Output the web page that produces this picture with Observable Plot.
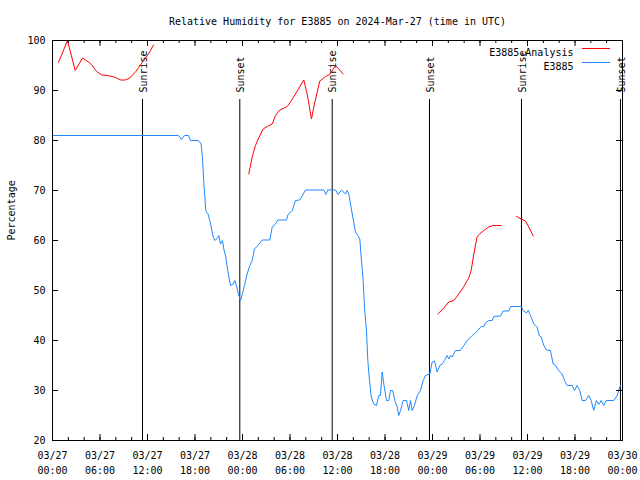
<!DOCTYPE html>
<html><head><meta charset="utf-8">
<script src="https://cdn.jsdelivr.net/npm/d3@7"></script>
<script src="https://cdn.jsdelivr.net/npm/@observablehq/plot@0.6"></script>
<style>body{margin:0;background:#fff} svg{display:block}</style>
</head><body><div id="chart"></div>
<script>
const title = "Relative Humidity for E3885 on 2024-Mar-27 (time in UTC)";
const startUTC = Date.UTC(2024, 2, 27);
const yLabel = "Percentage";
const seriesObs = "E3885";
const seriesAna = "E3885\u1D64Analysis";

// observed humidity (hours after 03/27 00:00 UTC, %)
const obsHours = [0,15.92,16.29,16.67,17.18,17.43,18.44,18.78,18.95,19.11,19.36,19.62,19.87,20.05,20.30,20.50,20.80,21.01,21.22,21.47,21.64,21.89,22.14,22.48,22.82,23.03,23.24,23.46,23.75,24.00,24.25,24.59,24.92,25.22,25.51,25.93,26.49,27.45,27.75,28.17,28.46,29.56,29.72,30.28,30.69,31.24,31.96,34.27,34.52,34.77,35.75,36.09,36.50,37.01,37.22,37.43,37.64,37.93,38.27,38.56,38.82,38.99,39.24,39.41,39.66,39.83,40.00,40.26,40.58,40.92,41.22,41.43,41.64,41.85,42.19,42.48,42.69,42.98,43.24,43.54,43.74,43.96,44.30,44.71,45.00,45.22,45.43,45.72,46.07,46.48,46.82,47.11,47.66,47.96,48.25,48.59,48.92,49.22,49.51,49.85,50.06,50.27,50.49,50.90,51.53,51.95,52.38,53.01,53.43,53.72,54.15,54.48,54.69,55.11,55.54,55.74,56.59,56.93,57.64,57.85,59.24,59.45,59.87,60.09,60.38,60.79,61.22,61.47,61.73,62.06,62.40,62.90,63.24,63.53,63.95,64.38,64.67,65.01,65.64,65.93,66.27,66.60,66.91,67.32,67.74,68.04,68.37,68.71,69.00,69.30,69.63,69.94,70.90,71.33,71.53,71.74];
const obsValues = [81,81,80.2,81,81,80,80,79.3,76.4,71.7,66,65.4,64,62.7,60.7,60,60.4,61,59.3,60,58.3,56.7,54,51,51.3,52,51,49.4,48,49.4,51,53.3,55,56,58.3,59,60.1,60.1,62.7,63.3,64.1,64.1,65.1,66,68,68.1,70.1,70.1,69.2,70.1,70.1,69.2,70.1,69.3,70,69.3,67.3,64.7,61.7,61,60.3,56.7,52,46.7,42,36,32.7,28.7,27.3,27,29,29,33.7,31.3,28,28,30,30,28,26.7,25,26,28,28,26,28,26,27,29,30,32,33,33.3,35.7,35.9,33.7,35,35.3,36,37,36.3,37,36.7,38,38,39,40,41,41.5,42,42.8,42.8,43.5,44,44,44.8,44.9,45.9,45.9,46.8,46.8,46,45.5,46,45,43.3,42.7,41,40.7,39,38.1,38,35.3,35,34,33.3,32,31,31,30,31,30,28,28,29,28,26,28,27.2,28,27,28,28,29,30,31];

// analysis humidity, in separate segments
const anaSegment = [1,1,1,1,1,1,1,1,1,1,1,1,1,1,1,1,1, 2,2,2,2,2,2,2,2,2,2,2,2,2,2,2,2,2,2,2,2,2,2, 3,3,3,3,3,3,3,3,3,3,3,3,3,3,3, 4,4,4,4,4];
const anaHours = [0.76,1.89,2.87,3.79,4.64,4.96,5.56,6.23,6.95,7.79,8.63,9.18,9.76,10.52,11.28,12.21,12.76,
  24.79,25.22,25.64,25.93,26.61,27.12,27.75,28.17,28.71,29.64,30.06,30.69,31.74,32.17,32.71,33.09,33.76,34.48,35.03,35.75,36.16,36.72,
  48.67,49.43,50.06,50.69,51.32,51.95,52.58,52.89,53.22,53.64,53.97,54.48,55.11,55.67,56.67,
  58.61,59.20,59.74,60.16,60.72];
const anaValues = [95.6,100,94,96.5,95.6,95.1,93.8,93.1,93,92.7,92.1,92.1,92.5,93.8,95.5,97.5,99.1,
  73.3,76.7,79,80.1,82.3,82.8,83.3,85,86.1,86.8,87.7,89.3,92.1,89.3,84.3,87.3,91.9,92.8,93.2,95,94.3,93.3,
  45.3,46.5,47.7,48,49.3,50.8,52.5,54,57.3,60.8,61.3,62,62.7,63,63,
  64.8,64.3,63.9,62.7,60.9];

// sunrise / sunset markers
const eventHours = [11.37, 23.66, 35.33, 47.62, 59.24, 71.74];
const eventLabels = ["Sunrise", "Sunset", "Sunrise", "Sunset", "Sunrise", "Sunset"];

const yTicks = [20, 30, 40, 50, 60, 70, 80, 90, 100];
const xMajorHours = [0, 6, 12, 18, 24, 30, 36, 42, 48, 54, 60, 66, 72];
const xMinorHours = d3.range(0, 73, 2);

const hr = h => new Date(startUTC + h * 3600e3);
const obs = obsHours.map((h, i) => ({time: hr(h), value: obsValues[i]}));
const ana = anaHours.map((h, i) => ({time: hr(h), value: anaValues[i], seg: anaSegment[i]}));
const events = eventHours.map((h, i) => ({time: hr(h), label: eventLabels[i]}));
const xMajor = xMajorHours.map(hr);
const xMinor = xMinorHours.map(hr);

const font = "DejaVu Sans Mono";
const blue = "#1e88ff";
const red = "#ff0000";

const chart = Plot.plot({
  width: 640, height: 480,
  marginLeft: 52, marginRight: 18, marginTop: 40, marginBottom: 40,
  style: {fontFamily: font, fontSize: "10px", background: "#fff", color: "#000"},
  x: {type: "utc", domain: [hr(0), hr(72)]},
  y: {domain: [20, 100]},
  marks: [
    Plot.ruleX(events, {x: "time", stroke: "#000", insetTop: 59}),
    Plot.text(events, {x: "time", text: "label", frameAnchor: "top", rotate: -90, textAnchor: "start", lineAnchor: "middle", dy: 52, dx: 1, fill: "#000"}),
    Plot.line(obs, {x: "time", y: "value", stroke: blue, strokeWidth: 1}),
    Plot.line(ana, {x: "time", y: "value", z: "seg", stroke: red, strokeWidth: 1, clip: true}),
    // ticks (inward, mirrored)
    Plot.ruleX(xMajor, {insetTop: 394}),
    Plot.ruleX(xMinor, {insetTop: 397}),
    Plot.ruleX(xMajor, {insetBottom: 394}),
    Plot.ruleX(xMinor, {insetBottom: 397}),
    Plot.ruleY(yTicks, {insetRight: 564}),
    Plot.ruleY(yTicks, {insetLeft: 564}),
    Plot.frame({stroke: "#000"}),
    Plot.axisX(xMajor, {anchor: "bottom", tickSize: 0, tickPadding: 8, label: null, lineHeight: 1.5, tickFormat: d3.utcFormat("%m/%d\n%H:%M")}),
    Plot.axisY(yTicks, {anchor: "left", tickSize: 0, tickPadding: 7, label: null}),
    Plot.text([title], {text: d => d, frameAnchor: "top", dy: -23}),
    Plot.text([yLabel], {text: d => d, frameAnchor: "left", dx: -41, rotate: -90}),
    // legend
    Plot.text([seriesAna], {text: d => d, frameAnchor: "top-right", textAnchor: "end", dx: -49, dy: 8}),
    Plot.ruleY([100], {stroke: red, dy: 8, insetLeft: 530, insetRight: 12}),
    Plot.text([seriesObs], {text: d => d, frameAnchor: "top-right", textAnchor: "end", dx: -49, dy: 22}),
    Plot.ruleY([100], {stroke: blue, dy: 22, insetLeft: 530, insetRight: 12})
  ]
});
document.getElementById("chart").append(chart);
</script>
</body></html>
